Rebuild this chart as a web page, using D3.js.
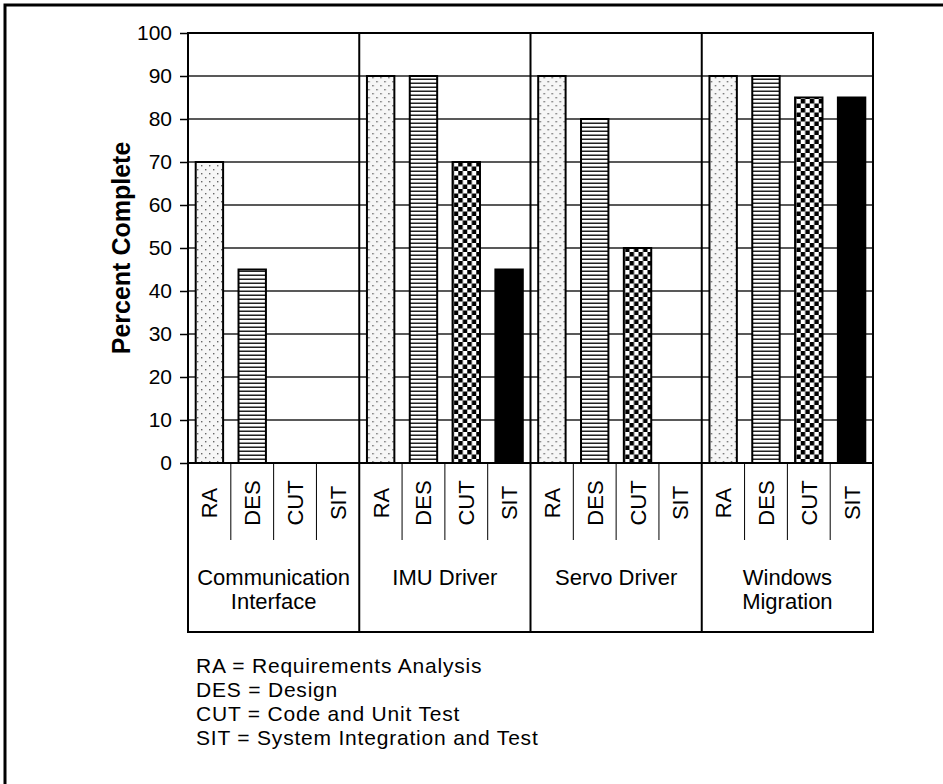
<!DOCTYPE html>
<html>
<head>
<meta charset="utf-8">
<script src="https://cdn.jsdelivr.net/npm/d3@7"></script>
<style>
  body { margin: 0; background: #fff; }
  text { font-family: "Liberation Sans", Arial, sans-serif; }
</style>
</head>
<body>
<script>
// data
const groups = ["Communication Interface", "IMU Driver", "Servo Driver", "Windows Migration"];
const groupLines = [["Communication", "Interface"], ["IMU Driver"], ["Servo Driver"], ["Windows", "Migration"]];
const phases = ["RA", "DES", "CUT", "SIT"];
const values = [
  [70, 45, 0, 0],
  [90, 90, 70, 45],
  [90, 80, 50, 0],
  [90, 90, 85, 85]
];
const yTicks = [0, 10, 20, 30, 40, 50, 60, 70, 80, 90, 100];
const legendLines = [
  "RA = Requirements Analysis",
  "DES = Design",
  "CUT = Code and Unit Test",
  "SIT = System Integration and Test"
];

const W = 943, H = 784;
const plotLeft = 188, plotRight = 873, plotTop = 33, plotBottom = 463, boxBottom = 632;

const svg = d3.select("body").append("svg")
  .attr("width", W).attr("height", H);

// patterns
const defs = svg.append("defs");
const pDots = defs.append("pattern").attr("id", "p-ra")
  .attr("patternUnits", "userSpaceOnUse").attr("width", 8).attr("height", 8);
pDots.append("rect").attr("width", 8).attr("height", 8).attr("fill", "#f6f6f6");
pDots.append("rect").attr("x", 1).attr("y", 1).attr("width", 1.4).attr("height", 1.4).attr("fill", "#666");
pDots.append("rect").attr("x", 5).attr("y", 5).attr("width", 1.4).attr("height", 1.4).attr("fill", "#666");

const pStripe = defs.append("pattern").attr("id", "p-des")
  .attr("patternUnits", "userSpaceOnUse").attr("width", 4).attr("height", 4);
pStripe.append("rect").attr("width", 4).attr("height", 4).attr("fill", "#fff");
pStripe.append("rect").attr("y", 2.5).attr("width", 4).attr("height", 1.5).attr("fill", "#222");

const pCheck = defs.append("pattern").attr("id", "p-cut")
  .attr("patternUnits", "userSpaceOnUse").attr("width", 9).attr("height", 9);
pCheck.append("rect").attr("width", 9).attr("height", 9).attr("fill", "#fff");
pCheck.append("rect").attr("width", 4.5).attr("height", 4.5).attr("fill", "#000");
pCheck.append("rect").attr("x", 4.5).attr("y", 4.5).attr("width", 4.5).attr("height", 4.5).attr("fill", "#000");

const fills = { RA: "url(#p-ra)", DES: "url(#p-des)", CUT: "url(#p-cut)", SIT: "#000" };

// outer frame (cut off at right/bottom)
svg.append("rect").attr("x", 5).attr("y", 5).attr("width", W + 20).attr("height", H + 20)
  .attr("fill", "none").attr("stroke", "#000").attr("stroke-width", 3);

const x0 = d3.scaleBand().domain(groups).range([plotLeft, plotRight]);
const x1 = d3.scaleBand().domain(phases).range([0, x0.bandwidth()]).paddingInner(0.36).paddingOuter(0.18);
const xSub = d3.scaleBand().domain(phases).range([0, x0.bandwidth()]);
const y = d3.scaleLinear().domain([0, 100]).range([plotBottom, plotTop]);

// gridlines
svg.append("g").selectAll("line").data(yTicks.filter(d => d > 0)).enter()
  .append("line")
  .attr("x1", plotLeft).attr("x2", plotRight)
  .attr("y1", d => y(d)).attr("y2", d => y(d))
  .attr("stroke", "#222").attr("stroke-width", 1.5);

// bars
const gGroups = svg.append("g").selectAll("g").data(groups).enter()
  .append("g").attr("transform", d => `translate(${x0(d)},0)`);

gGroups.selectAll("rect").data((g, i) => phases.map((p, j) => ({ p, v: values[i][j] })).filter(d => d.v > 0))
  .enter().append("rect")
  .attr("x", d => x1(d.p))
  .attr("width", x1.bandwidth())
  .attr("y", d => y(d.v))
  .attr("height", d => y(0) - y(d.v))
  .attr("fill", d => fills[d.p])
  .attr("stroke", "#000").attr("stroke-width", 2);

// group separators through plot and box
svg.append("g").selectAll("line").data(groups.slice(1)).enter()
  .append("line")
  .attr("x1", d => x0(d)).attr("x2", d => x0(d))
  .attr("y1", plotTop).attr("y2", boxBottom)
  .attr("stroke", "#000").attr("stroke-width", 2);

// sub-dividers under axis
gGroups.selectAll("line.sub").data(phases.slice(1)).enter()
  .append("line").attr("class", "sub")
  .attr("x1", d => xSub(d)).attr("x2", d => xSub(d))
  .attr("y1", plotBottom).attr("y2", 540)
  .attr("stroke", "#000").attr("stroke-width", 1);

// phase labels rotated
gGroups.selectAll("text.ph").data(phases).enter()
  .append("text").attr("class", "ph")
  .attr("transform", d => `translate(${xSub(d) + xSub.bandwidth() / 2 + 8},503) rotate(-90)`)
  .attr("text-anchor", "middle")
  .attr("font-size", 22)
  .text(d => d);

// group labels
gGroups.each(function(g, i) {
  const lines = groupLines[i];
  const t = d3.select(this).append("text")
    .attr("text-anchor", "middle")
    .attr("font-size", 22);
  lines.forEach((l, k) => {
    t.append("tspan").attr("x", x0.bandwidth() / 2).attr("y", 585 + k * 24).text(l);
  });
});

// plot frame + box
svg.append("rect").attr("x", plotLeft).attr("y", plotTop)
  .attr("width", plotRight - plotLeft).attr("height", boxBottom - plotTop)
  .attr("fill", "none").attr("stroke", "#000").attr("stroke-width", 2);
svg.append("line").attr("x1", plotLeft).attr("x2", plotRight)
  .attr("y1", plotBottom).attr("y2", plotBottom)
  .attr("stroke", "#000").attr("stroke-width", 2);

// y axis
const yAxis = d3.axisLeft(y).tickValues(yTicks).tickSize(8).tickPadding(8);
const ga = svg.append("g").attr("transform", `translate(${plotLeft},0)`).call(yAxis);
ga.select(".domain").remove();
ga.selectAll("line").attr("stroke", "#000").attr("stroke-width", 1.5);
ga.selectAll("text").attr("font-size", 21).attr("fill", "#000")
  .style("font-family", "'Liberation Sans', Arial, sans-serif");

svg.append("text")
  .attr("transform", `translate(130,${(plotTop + plotBottom) / 2}) rotate(-90)`)
  .attr("text-anchor", "middle")
  .attr("font-size", 25).attr("font-weight", "bold")
  .text("Percent Complete");

// legend
svg.append("g").selectAll("text").data(legendLines).enter()
  .append("text")
  .attr("x", 196).attr("y", (d, i) => 673 + i * 24)
  .attr("font-size", 21)
  .attr("letter-spacing", 0.8)
  .text(d => d);
</script>
</body>
</html>
